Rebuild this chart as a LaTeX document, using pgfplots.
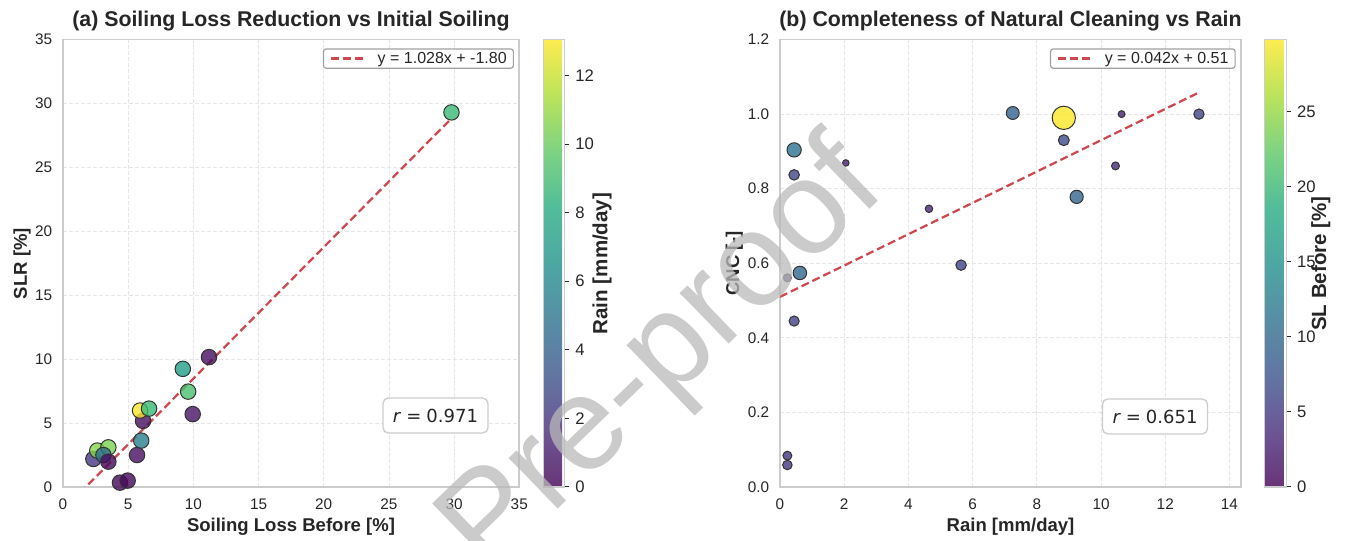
\documentclass[border=0pt]{standalone}
\usepackage{fontspec}
\setmainfont{Liberation Sans}
\newfontfamily\dejavu{DejaVu Sans}
\usepackage{pgfplots}
\pgfplotsset{compat=1.18}
\usepackage{pgfplotstable}

\definecolor{txt}{RGB}{38,38,38}
\definecolor{spine}{RGB}{204,204,204}
\definecolor{gridc}{RGB}{230,230,230}
\definecolor{trend}{RGB}{204,74,79}
\definecolor{edge}{RGB}{51,51,51}
\definecolor{legedge}{RGB}{160,160,160}
\definecolor{rbox}{RGB}{205,205,205}
\definecolor{wmark}{RGB}{185,185,185}

\pgfplotstableread{
sl slr rain
4.37 0.34 0.23
4.96 0.50 0.23
2.33 2.19 2.05
2.63 2.85 10.64
3.48 3.10 10.45
3.10 2.50 4.64
3.48 1.98 0.23
5.68 2.50 0.44
6.00 3.63 5.64
6.14 5.17 0.44
5.91 5.98 13.05
6.60 6.13 8.84
9.95 5.70 0.62
9.60 7.46 9.24
9.19 9.24 7.25
11.20 10.16 0.44
29.80 29.30 8.84
}\lefttable

\pgfplotstableread{
rain cnc sl
0.23 0.084 4.37
0.23 0.059 4.96
2.05 0.869 2.33
10.64 1.000 2.63
10.45 0.861 3.48
4.64 0.746 3.10
0.23 0.561 3.48
0.44 0.445 5.68
5.64 0.595 6.00
0.44 0.837 6.14
13.05 1.000 5.91
8.84 0.930 6.60
0.62 0.574 9.95
9.24 0.778 9.60
7.25 1.003 9.19
0.44 0.904 11.20
8.84 0.990 29.80
}\righttable

\pgfplotsset{
  base/.style={
    scale only axis,
    enlargelimits=false,
    axis line style={draw=spine, line width=1.25pt},
    grid=major,
    major grid style={draw=gridc, line width=0.6pt, dash pattern=on 3pt off 1.5pt},
    major tick length=0pt,
    tick style={draw=none},
    /pgf/number format/assume math mode=true,
    tick label style={font=\fontsize{11.5}{13}\selectfont, text=txt},
    xticklabel style={anchor=base, yshift=-17.25pt},
    yticklabel style={anchor=east, inner xsep=0pt, xshift=-8pt},
    colormap/viridis,
    legend style={anchor=north east, draw=legedge, line width=0.9pt,
      rounded corners=2pt, fill=white, font=\fontsize{12}{14}\selectfont,
      text=txt, inner xsep=5pt, inner ysep=2.3pt, nodes={inner sep=0pt},
      /tikz/every odd column/.append style={column sep=10pt}},
    legend image code/.code={\draw[#1] (0pt,0pt) -- (24pt,0pt);},
  },
  cbar/.style={
    colorbar,
    colorbar style={
      at={(parent axis.north east)}, anchor=north west, xshift=9.3pt,
      width=16.2pt, scale only axis,
      colormap={vw}{rgb255=(105,52,118) rgb255=(108,86,149) rgb255=(98,117,162)
        rgb255=(86,142,165) rgb255=(77,167,163) rgb255=(82,189,154)
        rgb255=(125,211,130) rgb255=(187,227,91) rgb255=(253,236,81)},
      axis line style={draw=spine, line width=0.8pt},
      ytick={#1},
      tick align=outside, major tick length=3.4pt,
      major tick style={draw=txt, line width=0.75pt},
      yticklabel pos=right, ytick pos=right,
      /pgf/number format/assume math mode=true,
      yticklabel style={font=\fontsize{12.5}{14}\selectfont, text=txt,
        anchor=west, inner xsep=0pt, xshift=4.5pt},
    },
  },
}

\begin{document}
\begin{tikzpicture}
\useasboundingbox (0pt,0pt) rectangle (1011pt,405.75pt);

% ---------- (a) ----------
\begin{axis}[base,
  at={(47.25pt,40.5pt)}, anchor=south west,
  width=342.2pt, height=335.6pt,
  xmin=0, xmax=35, ymin=0, ymax=35,
  xtick={0,5,...,35}, ytick={0,5,...,35},
  point meta min=0, point meta max=13.05,
  cbar={0,2,...,12},
  legend style={at={(axis description cs:0.9884,0.9803)}},
]
\addplot[scatter, only marks, mark=*, mark size=5.8pt, point meta=explicit,
  scatter/use mapped color={draw=edge, fill=mapped color},
  mark options={line width=0.75pt, fill opacity=0.8}, forget plot]
  table[x=sl, y=slr, meta=rain]{\lefttable};
\addplot[trend, line width=1.7pt, dash pattern=on 6pt off 3pt]
  coordinates {(0,-1.80) (29.8,28.83)};
\addlegendentry{y = 1.028x + -1.80}
\end{axis}

% ---------- (b) ----------
\begin{axis}[base,
  at={(585pt,40.5pt)}, anchor=south west,
  width=345.75pt, height=335.6pt,
  xmin=0, xmax=14.36, ymin=0, ymax=1.2,
  xtick={0,2,...,14}, ytick={0,0.2,...,1.2},
  yticklabel style={/pgf/number format/fixed, /pgf/number format/fixed zerofill,
    /pgf/number format/precision=1},
  point meta min=0, point meta max=29.8,
  cbar={0,5,...,25},
  legend style={at={(axis description cs:0.9885,0.9803)}},
]
\addplot[scatter, only marks, mark=*, point meta=explicit,
  scatter/use mapped color={draw=edge, fill=mapped color},
  visualization depends on={1.6*sqrt(\thisrow{sl}) \as \msize},
  scatter/@pre marker code/.append style={/tikz/mark size=\msize},
  mark options={line width=0.75pt, fill opacity=0.8}, forget plot]
  table[x=rain, y=cnc, meta=sl]{\righttable};
\addplot[trend, line width=1.7pt, dash pattern=on 6pt off 3pt]
  coordinates {(0,0.51) (13.05,1.058)};
\addlegendentry{y = 0.042x + 0.51}
\end{axis}

% ---------- titles and labels ----------
\node[anchor=base, font=\bfseries\fontsize{16}{19}\selectfont, text=txt]
  at (218.25pt,385.5pt) {(a) Soiling Loss Reduction vs Initial Soiling};
\node[anchor=base, font=\bfseries\fontsize{16}{19}\selectfont, text=txt]
  at (757.9pt,385.5pt) {(b) Completeness of Natural Cleaning vs Rain};
\node[anchor=base, font=\bfseries\fontsize{13.9}{16}\selectfont, text=txt]
  at (218.25pt,6.75pt) {Soiling Loss Before [\%]};
\node[anchor=base, font=\bfseries\fontsize{13.9}{16}\selectfont, text=txt]
  at (757.9pt,6.75pt) {Rain [mm/day]};
\node[rotate=90, anchor=base, font=\bfseries\fontsize{13.9}{16}\selectfont, text=txt]
  at (20.25pt,208.1pt) {SLR [\%]};
\node[rotate=90, anchor=base, font=\bfseries\fontsize{13.9}{16}\selectfont, text=txt]
  at (554.25pt,208.1pt) {CNC [-]};
\node[rotate=90, anchor=base, font=\bfseries\fontsize{15.4}{18}\selectfont, text=txt]
  at (455.6pt,208.1pt) {Rain [mm/day]};
\node[rotate=90, anchor=base, font=\bfseries\fontsize{15.4}{18}\selectfont, text=txt]
  at (994.5pt,208.1pt) {SL Before [\%]};

% ---------- r boxes ----------
\node[draw=rbox, line width=1pt, fill=white, rounded corners=4pt,
  minimum width=78.75pt, minimum height=26.25pt, inner sep=0pt, text=txt,
  font=\dejavu\fontsize{13.5}{15}\selectfont]
  at (326.6pt,94.1pt) {\textit{r}\hspace{0.28em}=\hspace{0.28em}0.971};
\node[draw=rbox, line width=1pt, fill=white, rounded corners=4pt,
  minimum width=78.75pt, minimum height=26.25pt, inner sep=0pt, text=txt,
  font=\dejavu\fontsize{13.5}{15}\selectfont]
  at (866.25pt,93.4pt) {\textit{r}\hspace{0.28em}=\hspace{0.28em}0.651};

% ---------- watermark ----------
\node[rotate=44, text=wmark, opacity=0.75, font=\fontsize{100}{105}\selectfont]
  at (498pt,136pt) {Pre-proof};
\end{tikzpicture}
\end{document}
